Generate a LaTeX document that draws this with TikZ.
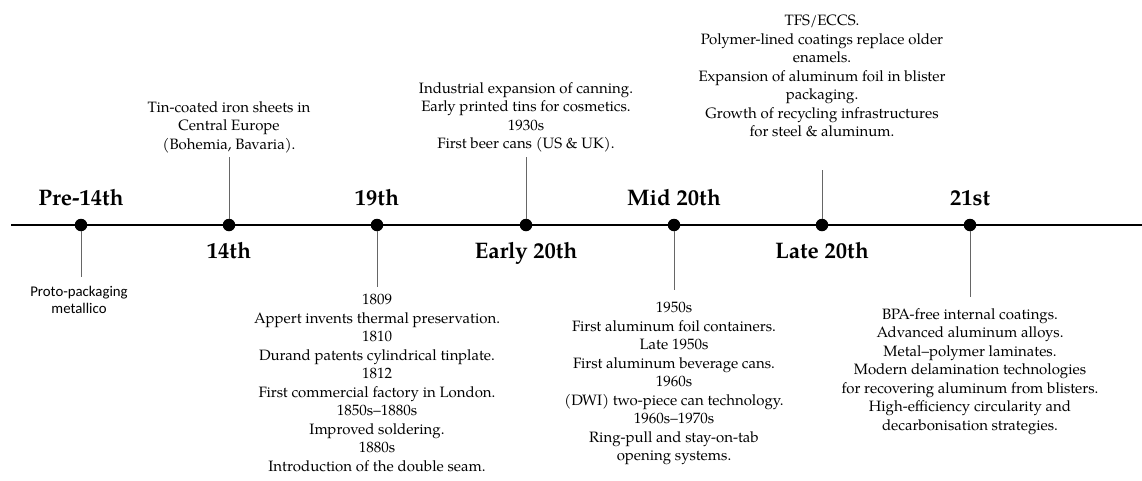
\documentclass[tikz,border=0pt]{standalone}
\usepackage{fontspec}
\setmainfont{TeX Gyre Pagella}
\newfontfamily\calib{Carlito}
\begin{document}
\begin{tikzpicture}[x=1pt,y=-1pt,
  dot/.style={circle,fill=black,inner sep=0pt,minimum size=12.5pt},
  era/.style={font=\fontsize{22.5}{26}\selectfont\bfseries,inner sep=0pt},
  desc/.style={font=\fontsize{15}{18.5}\selectfont,align=center,inner sep=0pt,anchor=north},
  link/.style={draw=black!60,line width=0.8pt},
  mainline/.style={line width=1.6pt}]
\useasboundingbox (0,0) rectangle (1142,480);
\coordinate (L) at (11,225);
\coordinate (R) at (1142,225);
\draw[mainline] (L) -- (R);
\node[dot] (d1) at (81,225) {};
\node[dot] (d2) at (229,225) {};
\node[dot] (d3) at (377,225) {};
\node[dot] (d4) at (526,225) {};
\node[dot] (d5) at (674,225) {};
\node[dot] (d6) at (822,225) {};
\node[dot] (d7) at (970,225) {};
% era labels
\node[era,anchor=base] (e1) at (81,205) {Pre-14th};
\node[era,anchor=base] (e2) at (229,258) {14th};
\node[era,anchor=base] (e3) at (377,205) {19th};
\node[era,anchor=base] (e4) at (526,258) {Early 20th};
\node[era,anchor=base] (e5) at (674,205) {Mid 20th};
\node[era,anchor=base] (e6) at (822,258) {Late 20th};
\node[era,anchor=base] (e7) at (970,205) {21st};
% descriptions
\node[desc,font=\calib\fontsize{14.8}{17.5}\selectfont] (t1) at (79,286) {Proto-packaging\\metallico};
\node[desc] (t2) at (229,101) {Tin-coated iron sheets in\\Central Europe\\(Bohemia, Bavaria).};
\node[desc] (t3) at (377,294) {1809\\Appert invents thermal preservation.\\1810\\Durand patents cylindrical tinplate.\\1812\\First commercial factory in London.\\1850s--1880s\\Improved soldering.\\1880s\\Introduction of the double seam.};
\node[desc] (t4) at (526,82) {Industrial expansion of canning.\\Early printed tins for cosmetics.\\1930s\\First beer cans (US \& UK).};
\node[desc] (t5) at (674,302) {1950s\\First aluminum foil containers.\\Late 1950s\\First aluminum beverage cans.\\1960s\\(DWI) two-piece can technology.\\1960s--1970s\\Ring-pull and stay-on-tab\\opening systems.};
\node[desc] (t6) at (822,15) {TFS/ECCS.\\Polymer-lined coatings replace older\\enamels.\\Expansion of aluminum foil in blister\\packaging.\\Growth of recycling infrastructures\\for steel \& aluminum.};
\node[desc] (t7) at (970,308) {BPA-free internal coatings.\\Advanced aluminum alloys.\\Metal--polymer laminates.\\Modern delamination technologies\\for recovering aluminum from blisters.\\High-efficiency circularity and\\decarbonisation strategies.};
% connectors
\coordinate (c1) at (81,277);
\coordinate (c2) at (229,157);
\coordinate (c3) at (377,287);
\coordinate (c4) at (526,157);
\coordinate (c5) at (674,290);
\coordinate (c6) at (822,170);
\coordinate (c7) at (970,297);
\draw[link] (d1) -- (c1);
\draw[link] (d2) -- (c2);
\draw[link] (d3) -- (c3);
\draw[link] (d4) -- (c4);
\draw[link] (d5) -- (c5);
\draw[link] (d6) -- (c6);
\draw[link] (d7) -- (c7);
\end{tikzpicture}
\end{document}
